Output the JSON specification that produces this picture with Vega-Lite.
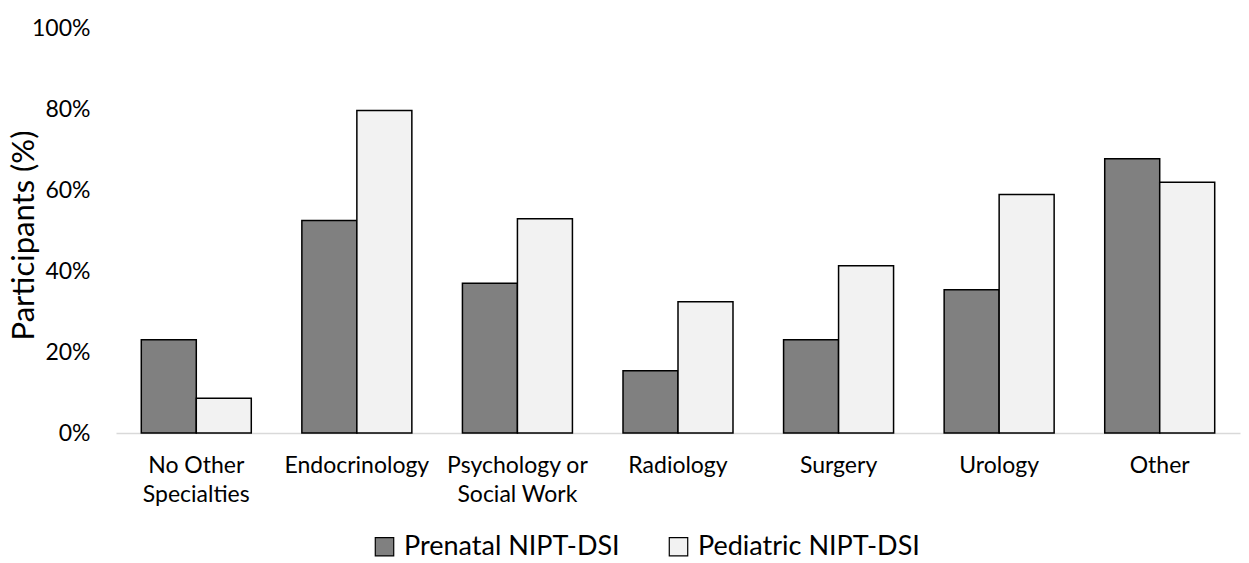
{
  "$schema": "https://vega.github.io/schema/vega-lite/v6.json",
  "width": 1124,
  "height": 405,
  "autosize": {"type": "none"},
  "padding": {"left": 116, "top": 28, "right": 9, "bottom": 130},
  "background": "white",
  "config": {
    "font": "Lato",
    "view": {"stroke": null},
    "axis": {"labelColor": "#000000", "titleColor": "#000000", "labelFont": "Lato", "titleFont": "Lato", "titleFontWeight": "normal"}
  },
  "data": {
    "values": [
      {"specialty": "No Other Specialties", "group": "Prenatal NIPT-DSI", "pct": 23.0},
      {"specialty": "No Other Specialties", "group": "Pediatric NIPT-DSI", "pct": 8.6},
      {"specialty": "Endocrinology", "group": "Prenatal NIPT-DSI", "pct": 52.5},
      {"specialty": "Endocrinology", "group": "Pediatric NIPT-DSI", "pct": 79.6},
      {"specialty": "Psychology or Social Work", "group": "Prenatal NIPT-DSI", "pct": 37.0},
      {"specialty": "Psychology or Social Work", "group": "Pediatric NIPT-DSI", "pct": 52.9},
      {"specialty": "Radiology", "group": "Prenatal NIPT-DSI", "pct": 15.4},
      {"specialty": "Radiology", "group": "Pediatric NIPT-DSI", "pct": 32.4},
      {"specialty": "Surgery", "group": "Prenatal NIPT-DSI", "pct": 23.0},
      {"specialty": "Surgery", "group": "Pediatric NIPT-DSI", "pct": 41.3},
      {"specialty": "Urology", "group": "Prenatal NIPT-DSI", "pct": 35.4},
      {"specialty": "Urology", "group": "Pediatric NIPT-DSI", "pct": 58.9},
      {"specialty": "Other", "group": "Prenatal NIPT-DSI", "pct": 67.7},
      {"specialty": "Other", "group": "Pediatric NIPT-DSI", "pct": 61.9}
    ]
  },
  "mark": {"type": "bar", "stroke": "#000000", "strokeWidth": 1.5},
  "encoding": {
    "x": {
      "field": "specialty",
      "type": "nominal",
      "sort": ["No Other Specialties", "Endocrinology", "Psychology or Social Work", "Radiology", "Surgery", "Urology", "Other"],
      "scale": {"paddingInner": 0.315, "paddingOuter": 0.1575},
      "axis": {
        "title": null,
        "labelAngle": 0,
        "labelFontSize": 23,
        "labelPadding": 21,
        "labelBaseline": "top",
        "labelLineHeight": 29,
        "ticks": false,
        "domainColor": "#d9d9d9",
        "domainWidth": 1.5,
        "labelExpr": "datum.value == 'No Other Specialties' ? ['No Other', 'Specialties'] : datum.value == 'Psychology or Social Work' ? ['Psychology or', 'Social Work'] : datum.value"
      }
    },
    "xOffset": {
      "field": "group",
      "type": "nominal",
      "sort": ["Prenatal NIPT-DSI", "Pediatric NIPT-DSI"],
      "scale": {"paddingInner": 0, "paddingOuter": 0}
    },
    "y": {
      "field": "pct",
      "type": "quantitative",
      "scale": {"domain": [0, 100], "nice": false},
      "axis": {
        "title": "Participants (%)",
        "titleFontSize": 31,
        "titleAngle": -90,
        "titleX": -92,
        "titleY": 207,
        "titleAlign": "center",
        "titleBaseline": "middle",
        "values": [0, 20, 40, 60, 80, 100],
        "labelExpr": "datum.value + '%'",
        "labelFontSize": 23,
        "labelPadding": 26,
        "ticks": false,
        "domain": false,
        "grid": false
      }
    },
    "fill": {
      "field": "group",
      "type": "nominal",
      "sort": ["Prenatal NIPT-DSI", "Pediatric NIPT-DSI"],
      "scale": {"domain": ["Prenatal NIPT-DSI", "Pediatric NIPT-DSI"], "range": ["#808080", "#f2f2f2"]},
      "legend": {
        "title": null,
        "orient": "none",
        "legendX": 255,
        "legendY": 505,
        "direction": "horizontal",
        "padding": 0,
        "symbolType": "square",
        "symbolSize": 340,
        "symbolStrokeColor": "#000000",
        "symbolStrokeWidth": 1.2,
        "labelFontSize": 27,
        "labelColor": "#000000",
        "labelOffset": 6,
        "columnPadding": 45,
        "labelLimit": 400
      }
    }
  }
}
